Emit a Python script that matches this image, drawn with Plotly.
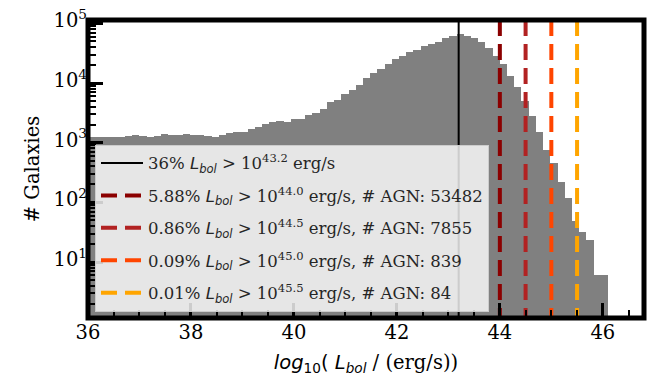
import plotly.graph_objects as go

# ---------------- data ----------------
bin_left = [35.88, 36.02, 36.16, 36.30, 36.44, 36.58, 36.72, 36.86, 37.00, 37.14,
            37.28, 37.42, 37.56, 37.70, 37.84, 37.98, 38.12, 38.26, 38.40, 38.54,
            38.68, 38.82, 38.96, 39.10, 39.24, 39.38, 39.52, 39.66, 39.80, 39.94,
            40.08, 40.22, 40.36, 40.50, 40.64, 40.78, 40.92, 41.06, 41.20, 41.34,
            41.48, 41.62, 41.76, 41.90, 42.04, 42.18, 42.32, 42.46, 42.60, 42.74,
            42.88, 43.02, 43.16, 43.30, 43.44, 43.58, 43.72, 43.86, 44.00, 44.14,
            44.28, 44.42, 44.56, 44.70, 44.84, 44.98, 45.12, 45.26, 45.40, 45.54,
            45.68, 45.82, 45.96]
bin_width = 0.14
counts = [1242, 1242, 1242, 1242, 1242, 1242, 1288, 1352, 1288, 1242,
          1318, 1402, 1352, 1352, 1402, 1352, 1352, 1288, 1242, 1352,
          1455, 1527, 1527, 1686, 1862, 2028, 2206, 2323, 2206, 2500,
          2500, 2930, 3190, 3615, 4730, 5230, 6530, 7570, 9440, 12050,
          14850, 17400, 20700, 25180, 28530, 33060, 35600, 41280, 44900, 49620,
          56060, 61000, 65650, 61000, 56060, 47840, 38750, 28530, 20700, 13060,
          8450, 4950, 2754, 1493, 757, 464, 222, 120, 48, 32,
          23, 6, 6]

median_thr = 43.2
median_pct = "36%"
thresholds = [44.0, 44.5, 45.0, 45.5]
threshold_labels = ["44.0", "44.5", "45.0", "45.5"]
percent_labels = ["5.88%", "0.86%", "0.09%", "0.01%"]
agn_counts = [53482, 7855, 839, 84]
line_colors = ["#8B0000", "#B22222", "#FF4500", "#FFA500"]

x_range = [36, 46.8]
x_tickvals = [36, 38, 40, 42, 44, 46]
y_log_range = [0.063, 5.056]
y_tickvals = [10, 100, 1000, 10000, 100000]
y_ticktext = ["10<sup>1</sup>", "10<sup>2</sup>", "10<sup>3</sup>", "10<sup>4</sup>", "10<sup>5</sup>"]
y_minor = [m * 10 ** e for e in range(0, 6) for m in range(2, 10)]

SERIF = "DejaVu Serif"
LBOL = "<span style='font-family:DejaVu Sans'><i>L</i><sub><i>bol</i></sub></span>"

# ---------------- figure ----------------
fig = go.Figure()
fig.add_trace(go.Bar(x=bin_left, y=counts, width=bin_width, offset=0,
                     marker=dict(color="#808080", line=dict(width=0)),
                     showlegend=False, hoverinfo="skip"))

y_top = 10 ** y_log_range[1]
y_bot = 10 ** y_log_range[0]

fig.add_trace(go.Scatter(
    x=[median_thr, median_thr], y=[y_top, y_bot], mode="lines",
    line=dict(color="black", width=2),
    name=f"{median_pct} {LBOL} &gt; 10<sup>{median_thr}</sup> erg/s",
    legendgroup="g0"))

for i, (thr, lab, pct, n, col) in enumerate(zip(thresholds, threshold_labels, percent_labels, agn_counts, line_colors)):
    fig.add_trace(go.Scatter(
        x=[thr, thr], y=[y_top, y_bot], mode="lines",
        line=dict(color=col, width=4, dash="16px,8px"),
        name=f"{pct} {LBOL} &gt; 10<sup>{lab}</sup> erg/s, # AGN: {n}",
        legendgroup=f"g{i+1}"))

fig.update_layout(
    width=661, height=380,
    margin=dict(l=88, r=17, t=6, b=62),
    plot_bgcolor="white", paper_bgcolor="white",
    bargap=0,
    font=dict(family=SERIF, color="black"),
    legend=dict(x=0.0126, y=0.021, xanchor="left", yanchor="bottom",
                bgcolor="rgba(255,255,255,0.8)", bordercolor="#cccccc", borderwidth=1,
                font=dict(family=SERIF, size=16.5, color="#262626"),
                traceorder="grouped", tracegroupgap=8, itemwidth=42),
    shapes=[dict(type="rect", xref="paper", yref="paper", x0=0, x1=1, y0=0, y1=1,
                 line=dict(color="black", width=5), layer="above")],
)

fig.update_xaxes(
    range=x_range, tickmode="array", tickvals=x_tickvals,
    ticks="inside", ticklen=15, tickwidth=2.5, tickcolor="black",
    showline=False, showgrid=False, zeroline=False,
    tickfont=dict(family=SERIF, size=19.5, color="black"),
    ticklabeloverflow="allow",
    minor=dict(ticks="inside", dtick=0.5, tick0=36, ticklen=8, tickwidth=1.5,
               tickcolor="black", showgrid=False),
    title=dict(text="<span style='font-family:DejaVu Sans'><i>log</i><sub>10</sub>( <i>L</i><sub><i>bol</i></sub></span> / (erg/s))",
               font=dict(family=SERIF, size=19.5, color="black"), standoff=12),
)

fig.update_yaxes(
    type="log", range=y_log_range, tickmode="array", tickvals=y_tickvals, ticktext=y_ticktext,
    ticks="inside", ticklen=15, tickwidth=2.5, tickcolor="black",
    showline=False, showgrid=False, zeroline=False,
    tickfont=dict(family=SERIF, size=19.5, color="black"),
    ticklabeloverflow="allow", ticklabelshift=-3,
    minor=dict(tickmode="array", tickvals=y_minor, ticks="inside", ticklen=8,
               tickwidth=1.5, tickcolor="black", showgrid=False),
    title=dict(text="# Galaxies", font=dict(family=SERIF, size=19.5, color="black"), standoff=8),
)

fig.write_html("out.html")
